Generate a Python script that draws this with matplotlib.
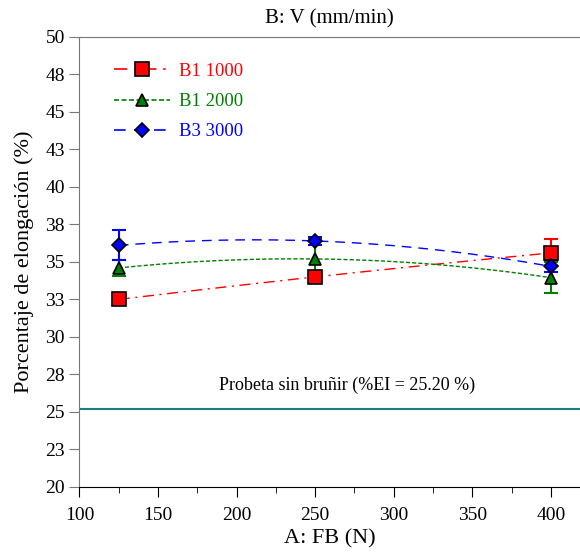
import numpy as np
import matplotlib.pyplot as plt
from matplotlib.ticker import MultipleLocator

plt.rcParams['font.family'] = ['Liberation Serif', 'DejaVu Serif']

fb = [125, 250, 400]
labels = ['B1 1000', 'B1 2000', 'B3 3000']
y_1000 = [32.5, 34.0, 35.6]
e_1000 = [0.0, 0.0, 0.9]
y_2000 = [34.6, 35.2, 33.95]
e_2000 = [0.55, 1.3, 1.05]
y_3000 = [36.1, 36.4, 34.7]
e_3000 = [1.0, 0.25, 0.4]
base_value = 25.2
yticks = [20, 22.5, 25, 27.5, 30, 32.5, 35, 37.5, 40, 42.5, 45, 47.5, 50]
ytick_labels = ['20', '23', '25', '28', '30', '33', '35', '38', '40', '43', '45', '48', '50']

fig = plt.figure(figsize=(5.8, 5.52), dpi=100)
ax = fig.add_axes([0.137, 0.118, 0.863, 0.815])

series = [
    (y_1000, e_1000, 'red', (0, (8, 4, 1.5, 4)), 's', 10),
    (y_2000, e_2000, 'green', (0, (3, 1.5)), '^', 9),
    (y_3000, e_3000, 'blue', (0, (7, 5)), 'D', 7),
]

xs = np.linspace(fb[0], fb[-1], 200)
handles = []
for (ys, es, col, ls, mk, ms), lab in zip(series, labels):
    # smooth model curve through the three points
    coef = np.polyfit(fb, ys, 2)
    ax.plot(xs, np.polyval(coef, xs), color=col, ls=ls, lw=1)
    ax.errorbar(fb, ys, yerr=es, fmt='none', ecolor=col, elinewidth=1.5, capsize=5, capthick=1.5)
    ax.plot(fb, ys, ls='none', marker=mk, ms=ms, mfc=col, mec='black', mew=1.2, zorder=5)
    h, = ax.plot([], [], color=col, ls=ls, lw=1.2, marker=mk, ms=ms, mfc=col, mec='black', mew=1.2, label=lab)
    handles.append(h)

ax.axhline(base_value, color='#1b7f7f', lw=1.5)
ax.text(270, 26.8, 'Probeta sin bruñir (%EI = 25.20 %)', ha='center', va='center', fontsize=13)

leg = ax.legend(handles=handles, loc='upper left', bbox_to_anchor=(0.035, 0.98), frameon=False,
                fontsize=13.5, handlelength=3.0, handletextpad=0.5, labelspacing=0.7,
                labelcolor='linecolor')

ax.set_xlim(100, 418.5)
ax.set_ylim(20, 50)
ax.xaxis.set_major_locator(MultipleLocator(50))
ax.xaxis.set_minor_locator(MultipleLocator(25))
ax.set_yticks(yticks)
ax.set_yticklabels(ytick_labels)
ax.tick_params(axis='both', labelsize=14, direction='out', length=7.5, pad=3)
ax.tick_params(axis='x', which='major', pad=7)
ax.tick_params(axis='x', which='minor', length=4.5)
ax.spines['right'].set_visible(False)
ax.spines['left'].set_color('#777777')
ax.spines['top'].set_color('#777777')
ax.tick_params(axis='y', colors='#777777', labelcolor='black')

ax.set_xlabel('A: FB (N)', fontsize=16, labelpad=4)
ax.set_ylabel('Porcentaje de elongación (%)', fontsize=16, labelpad=8)
ax.set_title('B: V (mm/min)', fontsize=15, pad=10)

fig.savefig('out.png', dpi=100)
